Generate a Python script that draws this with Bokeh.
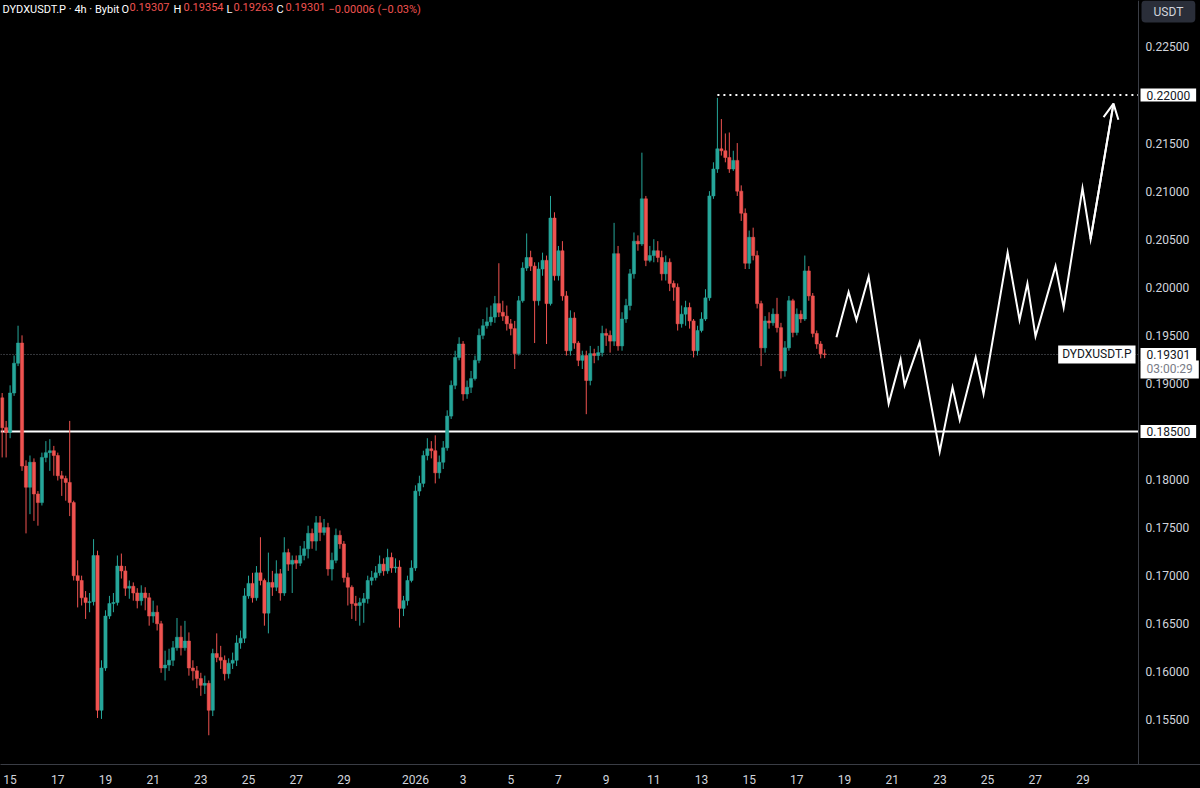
import numpy as np
from bokeh.plotting import figure
from bokeh.models import (Range1d, FixedTicker, Span, Label, Arrow, OpenHead,
                          ColumnDataSource, GlobalInlineStyleSheet)
from bokeh.core.properties import value
from bokeh.embed import file_html
from bokeh.resources import INLINE

# ---------------- data (DYDXUSDT.P, 4h candles) ----------------
first_open = 0.1885
start_day = -1.0 / 3.0          # days since 15 Dec 00:00 of the first candle
candle_step = 1.0 / 6.0          # 4h in days

closes = [
    .1854, .1849, .1890, .1921, .1942, .1814, .1792, .1818, .1785, .1776,
    .1823, .1828, .1830, .1825, .1804, .1801, .1797, .1776, .1700, .1695,
    .1677, .1672, .1673, .1721, .1560, .1604, .1658, .1671, .1672, .1710,
    .1705, .1687, .1689, .1682, .1674, .1682, .1677, .1658, .1662, .1650,
    .1604, .1607, .1612, .1625, .1636, .1625, .1632, .1604, .1601, .1593,
    .1586, .1588, .1560, .1619, .1615, .1612, .1598, .1609, .1612, .1630,
    .1635, .1679, .1692, .1677, .1703, .1695, .1661, .1693, .1688, .1702,
    .1682, .1724, .1712, .1716, .1713, .1721, .1728, .1744, .1736, .1755,
    .1745, .1750, .1707, .1716, .1742, .1733, .1698, .1688, .1671, .1669,
    .1672, .1676, .1695, .1698, .1703, .1712, .1705, .1719, .1708, .1709,
    .1666, .1674, .1695, .1708, .1788, .1796, .1825, .1832, .1830, .1807,
    .1818, .1833, .1866, .1898, .1927, .1941, .1889, .1896, .1905, .1924,
    .1950, .1960, .1964, .1969, .1983, .1974, .1970, .1962, .1957, .1931,
    .1986, .2020, .2031, .2022, .1986, .2019, .2028, .1983, .2072, .2012,
    .2038, .1991, .1934, .1968, .1942, .1924, .1929, .1903, .1931, .1929,
    .1932, .1952, .1950, .1944, .2035, .1939, .1967, .1981, .2014, .2048,
    .2045, .2092, .2028, .2033, .2038, .2031, .2014, .2026, .2004, .2000,
    .1962, .1972, .1979, .1965, .1934, .1955, .1967, .1989, .2095, .2123,
    .2144, .2142, .2135, .2123, .2132, .2100, .2077, .2025, .2052, .2033,
    .1983, .1937, .1965, .1963, .1972, .1958, .1913, .1937, .1986, .1953,
    .1972, .1967, .2017, .1991, .1952, .1941, .19307, .19301,
]
highs = [
    .1890, .1861, .1898, .1929, .1960, .1950, .1820, .1825, .1822, .1788,
    .1828, .1840, .1842, .1835, .1828, .1809, .1804, .1861, .1778, .1716,
    .1700, .1684, .1682, .1738, .1726, .1612, .1664, .1679, .1682, .1721,
    .1723, .1710, .1695, .1693, .1687, .1690, .1688, .1682, .1674, .1669,
    .1653, .1622, .1624, .1632, .1656, .1648, .1653, .1641, .1612, .1606,
    .1599, .1596, .1591, .1624, .1640, .1627, .1617, .1614, .1620, .1638,
    .1643, .1687, .1700, .1703, .1710, .1740, .1697, .1724, .1705, .1716,
    .1707, .1740, .1728, .1721, .1721, .1731, .1736, .1752, .1749, .1762,
    .1762, .1759, .1755, .1724, .1749, .1747, .1736, .1703, .1690, .1679,
    .1677, .1682, .1700, .1705, .1710, .1721, .1718, .1728, .1724, .1718,
    .1716, .1679, .1700, .1716, .1794, .1804, .1830, .1843, .1840, .1846,
    .1825, .1840, .1872, .1903, .1934, .1948, .1944, .1903, .1913, .1929,
    .1957, .1967, .1979, .1981, .1991, .2025, .1986, .1981, .1967, .1965,
    .1991, .2026, .2056, .2038, .2026, .2026, .2036, .2033, .2095, .2078,
    .2043, .2048, .1996, .1976, .1974, .1944, .1934, .1934, .1939, .1936,
    .1939, .1960, .1957, .1955, .2067, .2043, .1974, .1988, .2019, .2057,
    .2054, .2140, .2095, .2043, .2050, .2048, .2038, .2033, .2030, .2007,
    .2004, .1981, .1986, .1984, .1967, .1960, .1974, .1998, .2100, .2130,
    .2197, .2175, .2160, .2161, .2142, .2150, .2106, .2082, .2059, .2062,
    .2038, .1986, .1970, .1974, .1978, .1989, .1963, .1944, .1991, .1988,
    .1978, .1976, .2033, .2022, .1994, .1955, .1944, .19354,
]
lows = [
    .1823, .1823, .1843, .1887, .1918, .1809, .1744, .1764, .1757, .1752,
    .1773, .1818, .1809, .1804, .1799, .1783, .1778, .1762, .1695, .1667,
    .1669, .1655, .1662, .1669, .1552, .1551, .1601, .1655, .1662, .1669,
    .1697, .1679, .1676, .1674, .1666, .1669, .1664, .1648, .1651, .1643,
    .1599, .1591, .1601, .1606, .1622, .1617, .1622, .1596, .1591, .1583,
    .1575, .1577, .1534, .1554, .1610, .1603, .1591, .1593, .1603, .1606,
    .1624, .1630, .1676, .1672, .1674, .1690, .1648, .1640, .1679, .1684,
    .1674, .1679, .1705, .1682, .1707, .1710, .1716, .1718, .1728, .1726,
    .1736, .1742, .1700, .1695, .1713, .1728, .1693, .1669, .1655, .1653,
    .1648, .1651, .1671, .1690, .1695, .1700, .1700, .1702, .1703, .1703,
    .1646, .1658, .1669, .1693, .1705, .1783, .1792, .1820, .1822, .1796,
    .1801, .1811, .1830, .1863, .1894, .1924, .1882, .1884, .1890, .1903,
    .1921, .1946, .1957, .1960, .1963, .1969, .1965, .1955, .1950, .1915,
    .1929, .1984, .2017, .2017, .1942, .1981, .2012, .1941, .1981, .2007,
    .2007, .1986, .1929, .1929, .1936, .1918, .1915, .1868, .1898, .1921,
    .1924, .1928, .1939, .1932, .1939, .1934, .1934, .1963, .1976, .2009,
    .2038, .2043, .2022, .2026, .2026, .2026, .2007, .2007, .1996, .1986,
    .1955, .1958, .1960, .1957, .1927, .1929, .1953, .1965, .1986, .2092,
    .2119, .2137, .2130, .2119, .2121, .2095, .2069, .2019, .2019, .2028,
    .1978, .1918, .1932, .1957, .1960, .1953, .1905, .1907, .1934, .1948,
    .1950, .1963, .1965, .1986, .1948, .1936, .1926, .19263,
]

# projected path (hand-drawn zigzag), days since 15 Dec / price
proj_day = [34.66, 35.17, 35.50, 36.01, 36.85, 37.35, 37.52, 38.15, 38.99, 39.53, 39.83,
            40.50, 40.83, 41.84, 42.34, 42.67, 43.01, 43.85, 44.19, 44.98, 45.32, 46.28]
proj_price = [.1948, .1995, .1966, .2011, .1879, .1925, .1898, .1943, .1829, .1896, .1862,
              .1927, .1889, .2036, .1966, .2004, .1949, .2022, .1979, .2103, .2050, .2191]

support_level = 0.185
target_level = 0.22
last_price = 0.19301
countdown = "03:00:29"

price_ticks = [0.155, 0.160, 0.165, 0.170, 0.175, 0.180, 0.185, 0.190, 0.195,
               0.200, 0.205, 0.210, 0.215, 0.220, 0.225]
tick_days = [0, 2, 4, 6, 8, 10, 12, 14, 17, 19, 21, 23, 25, 27, 29, 31, 33, 35, 37, 39, 41, 43, 45]
tick_labels = ["15", "17", "19", "21", "23", "25", "27", "29", "2026", "3", "5", "7", "9",
               "11", "13", "15", "17", "19", "21", "23", "25", "27", "29"]

# ---------------- styling ----------------
FONT = "Roboto"
UP = "#26a69a"
DOWN = "#ef5350"
TEXT = "#d1d4dc"
BG = "#000000"
GRID = "#3a3d45"

opens = [first_open] + closes[:-1]
n = len(closes)
times = start_day + np.arange(n) * candle_step
colors = [UP if c >= o else DOWN for o, c in zip(opens, closes)]
src = ColumnDataSource(dict(
    t=times, o=opens, h=highs, l=lows, c=closes,
    top=[max(o, c) for o, c in zip(opens, closes)],
    bot=[min(o, c) for o, c in zip(opens, closes)],
    color=colors))

# frame spans the whole width; the price scale lives at the right end of it
x_range = Range1d(-0.403, 49.93)
y_range = Range1d(0.15036, 0.22983)
axis_day = 47.33            # position of the price-scale separator

p = figure(width=1200, height=788, output_backend="svg", toolbar_location=None,
           x_range=x_range, y_range=y_range, y_axis_location=None,
           background_fill_color=BG, border_fill_color=BG,
           min_border_left=0, min_border_top=0, min_border_right=0, min_border_bottom=24)
p.stylesheets = [GlobalInlineStyleSheet(css="html, body { background: #000000; }")]
p.outline_line_color = None
p.grid.visible = False

# time axis
p.xaxis.ticker = FixedTicker(ticks=tick_days)
p.xaxis.major_label_overrides = {d: lab for d, lab in zip(tick_days, tick_labels)}
p.xaxis.axis_line_color = GRID
p.xaxis.major_tick_line_color = None
p.xaxis.minor_tick_line_color = None
p.xaxis.major_label_text_color = TEXT
p.xaxis.major_label_text_font = FONT
p.xaxis.major_label_text_font_size = "12px"
p.xaxis.major_label_standoff = 4

# price scale: separator + labels
p.add_layout(Span(location=axis_day, dimension="height", line_color=GRID, line_width=1))
p.text(x=[axis_day] * len(price_ticks), y=price_ticks,
       text=[f"{t:.5f}" for t in price_ticks], x_offset=7,
       text_baseline="middle", text_align="left", text_color=TEXT,
       text_font=value(FONT), text_font_size="12px")

# horizontal reference lines
p.line([x_range.start, axis_day], [last_price, last_price], line_color="#6a6d75",
       line_width=1, line_dash="1 2")
p.line([x_range.start, axis_day], [support_level, support_level], line_color="white",
       line_width=2)

# candles
p.segment(x0="t", y0="l", x1="t", y1="h", color="color", line_width=1, source=src)
p.vbar(x="t", top="top", bottom="bot", width=0.135, fill_color="color", line_color="color",
       line_width=0.5, source=src)

# dotted target line from the highest wick to the price scale
peak_day = times[int(np.argmax(highs))]
p.line([peak_day, axis_day], [target_level, target_level], line_color="white",
       line_width=2, line_dash="2 4")

# projected zigzag with arrow
p.line(proj_day, proj_price, line_color="white", line_width=2, line_join="miter")
p.add_layout(Arrow(end=OpenHead(line_color="white", line_width=2, size=15),
                   x_start=proj_day[-2], y_start=proj_price[-2],
                   x_end=proj_day[-1], y_end=proj_price[-1],
                   line_color="white", line_width=2))

# price tags on the scale
def tag(y, text, color="#131722", y_offset=0, bg="white"):
    p.add_layout(Label(x=axis_day, y=y, x_offset=2, y_offset=y_offset, text=text,
                       text_align="left", text_baseline="middle", text_color=color,
                       text_font=FONT, text_font_size="12px",
                       background_fill_color=bg, padding=(6, 2)))

tag(target_level, "0.22000")
tag(support_level, "0.18500")
tag(last_price, countdown, color="#787b86", y_offset=-15)
tag(last_price, "0.19301")

p.add_layout(Label(x=axis_day, y=last_price, x_offset=-3, text="DYDXUSDT.P",
                   text_align="right", text_baseline="middle", text_color="#131722",
                   text_font=FONT, text_font_size="12px",
                   background_fill_color="white", padding=(4, 2)))

p.add_layout(Label(x=axis_day, y=y_range.end, x_offset=3, y_offset=0, text="USDT",
                   text_align="left", text_baseline="top", text_color=TEXT,
                   text_font=FONT, text_font_size="12px",
                   background_fill_color="#2a2e39", padding=(12, 4), border_radius=4))

# header line
header = [("DYDXUSDT.P · 4h · Bybit", "white", 2),
          ("O", "white", 121), ("0.19307", DOWN, 129),
          ("H", "white", 173), ("0.19354", DOWN, 183),
          ("L", "white", 226), ("0.19263", DOWN, 233),
          ("C", "white", 276), ("0.19301", DOWN, 285),
          ("\u22120.00006 (\u22120.03%)", DOWN, 328)]
for txt, col, off in header:
    p.add_layout(Label(x=x_range.start, y=y_range.end, x_offset=off, y_offset=-2, text=txt,
                       text_align="left", text_baseline="top", text_color=col,
                       text_font=FONT, text_font_size="11px"))

open("out.html", "w").write(file_html(p, INLINE))
